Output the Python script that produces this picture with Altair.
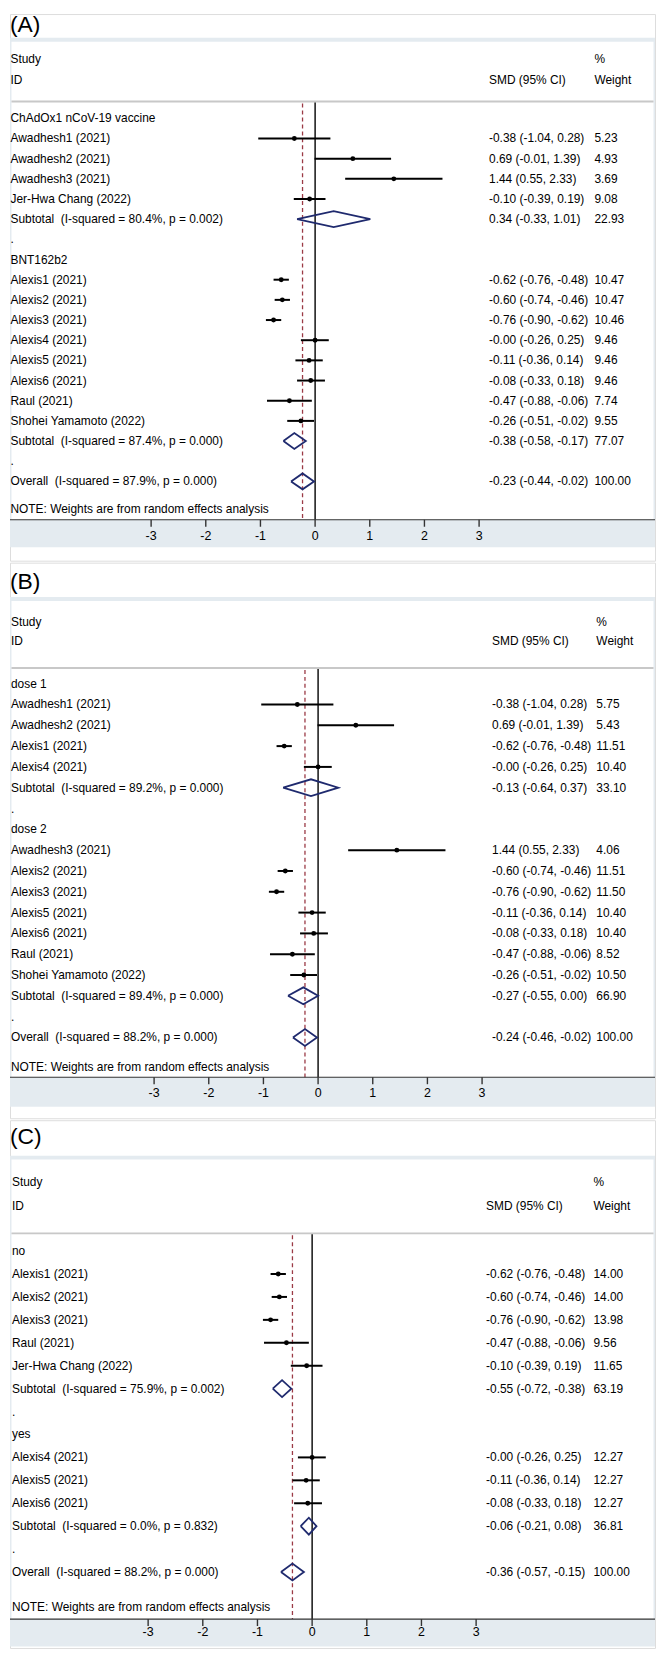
import altair as alt
import pandas as pd

FONT = "Liberation Sans"
INK = "#000000"
BAND = "#e4ebf0"
NAVY = "#1f2a6e"
MAROON = "#9b3a45"
RULE_GRAY = "#c8c8c8"

# ---------------- data ----------------
A_labels = ["ChAdOx1 nCoV-19 vaccine", "Awadhesh1 (2021)", "Awadhesh2 (2021)", "Awadhesh3 (2021)",
            "Jer-Hwa Chang (2022)", "Subtotal  (I-squared = 80.4%, p = 0.002)", ".", "BNT162b2",
            "Alexis1 (2021)", "Alexis2 (2021)", "Alexis3 (2021)", "Alexis4 (2021)", "Alexis5 (2021)",
            "Alexis6 (2021)", "Raul (2021)", "Shohei Yamamoto (2022)",
            "Subtotal  (I-squared = 87.4%, p = 0.000)", ".", "Overall  (I-squared = 87.9%, p = 0.000)"]
A_kind = ["g", "s", "s", "s", "s", "p", "b", "g", "s", "s", "s", "s", "s", "s", "s", "s", "p", "b", "p"]
A_est = [None, -0.38, 0.69, 1.44, -0.10, 0.34, None, None, -0.62, -0.60, -0.76, -0.0, -0.11, -0.08, -0.47, -0.26, -0.38, None, -0.23]
A_lo = [None, -1.04, -0.01, 0.55, -0.39, -0.33, None, None, -0.76, -0.74, -0.90, -0.26, -0.36, -0.33, -0.88, -0.51, -0.58, None, -0.44]
A_hi = [None, 0.28, 1.39, 2.33, 0.19, 1.01, None, None, -0.48, -0.46, -0.62, 0.25, 0.14, 0.18, -0.06, -0.02, -0.17, None, -0.02]
A_wt = [None, 5.23, 4.93, 3.69, 9.08, 22.93, None, None, 10.47, 10.47, 10.46, 9.46, 9.46, 9.46, 7.74, 9.55, 77.07, None, 100.00]

B_labels = ["dose 1", "Awadhesh1 (2021)", "Awadhesh2 (2021)", "Alexis1 (2021)", "Alexis4 (2021)",
            "Subtotal  (I-squared = 89.2%, p = 0.000)", ".", "dose 2", "Awadhesh3 (2021)", "Alexis2 (2021)",
            "Alexis3 (2021)", "Alexis5 (2021)", "Alexis6 (2021)", "Raul (2021)", "Shohei Yamamoto (2022)",
            "Subtotal  (I-squared = 89.4%, p = 0.000)", ".", "Overall  (I-squared = 88.2%, p = 0.000)"]
B_kind = ["g", "s", "s", "s", "s", "p", "b", "g", "s", "s", "s", "s", "s", "s", "s", "p", "b", "p"]
B_est = [None, -0.38, 0.69, -0.62, -0.0, -0.13, None, None, 1.44, -0.60, -0.76, -0.11, -0.08, -0.47, -0.26, -0.27, None, -0.24]
B_lo = [None, -1.04, -0.01, -0.76, -0.26, -0.64, None, None, 0.55, -0.74, -0.90, -0.36, -0.33, -0.88, -0.51, -0.55, None, -0.46]
B_hi = [None, 0.28, 1.39, -0.48, 0.25, 0.37, None, None, 2.33, -0.46, -0.62, 0.14, 0.18, -0.06, -0.02, 0.00, None, -0.02]
B_wt = [None, 5.75, 5.43, 11.51, 10.40, 33.10, None, None, 4.06, 11.51, 11.50, 10.40, 10.40, 8.52, 10.50, 66.90, None, 100.00]

C_labels = ["no", "Alexis1 (2021)", "Alexis2 (2021)", "Alexis3 (2021)", "Raul (2021)", "Jer-Hwa Chang (2022)",
            "Subtotal  (I-squared = 75.9%, p = 0.002)", ".", "yes", "Alexis4 (2021)", "Alexis5 (2021)",
            "Alexis6 (2021)", "Subtotal  (I-squared = 0.0%, p = 0.832)", ".",
            "Overall  (I-squared = 88.2%, p = 0.000)"]
C_kind = ["g", "s", "s", "s", "s", "s", "p", "b", "g", "s", "s", "s", "p", "b", "p"]
C_est = [None, -0.62, -0.60, -0.76, -0.47, -0.10, -0.55, None, None, -0.0, -0.11, -0.08, -0.06, None, -0.36]
C_lo = [None, -0.76, -0.74, -0.90, -0.88, -0.39, -0.72, None, None, -0.26, -0.36, -0.33, -0.21, None, -0.57]
C_hi = [None, -0.48, -0.46, -0.62, -0.06, 0.19, -0.38, None, None, 0.25, 0.14, 0.18, 0.08, None, -0.15]
C_wt = [None, 14.00, 14.00, 13.98, 9.56, 11.65, 63.19, None, None, 12.27, 12.27, 12.27, 36.81, None, 100.00]

tick_values = [-3, -2, -1, 0, 1, 2, 3]
tick_labels = ["-3", "-2", "-1", "0", "1", "2", "3"]

NOTE = "NOTE: Weights are from random effects analysis"

# ---------------- layout ----------------
W = 649
K = 0.99
UNIT = 55.0
FS = 12

GEOM = {
    "A": dict(top=4, H=550, tag_y=15, band_top=28, study_y=50, id_y=71, hline_y=93, row0=110, step=20.5,
              note_y=507, axis_y=518, tlab_y=535, band_bot=546, x0=315, study_x=8.5, smd_x=490, w_x=596, dh=8),
    "B": dict(top=560, H=559, tag_y=580, band_top=595, study_y=620, id_y=640, hline_y=667, row0=683, step=21.15,
              note_y=1073, axis_y=1083, tlab_y=1099, band_bot=1113, x0=318, study_x=9, smd_x=493, w_x=598, dh=8.5),
    "C": dict(top=1125, H=531, tag_y=1142, band_top=1161, study_y=1188, id_y=1212, hline_y=1240, row0=1258, step=23.3,
              note_y=1620, axis_y=1632, tlab_y=1645, band_bot=1660, x0=312, study_x=10, smd_x=487, w_x=595, dh=8.5),
}

one = pd.DataFrame({"k": [0]})


def panel(tag, labels, kind, est, lo, hi, wt, g):
    H = g["H"]
    py = lambda r: (r - g["top"]) * K
    px = lambda r: r - 8
    step = g["step"]
    ra = (g["top"] - g["row0"]) / step
    rb = ra + H / (K * step)
    ys = alt.Scale(domain=[ra, rb], range=[0, H], nice=False, zero=False)
    xs = alt.Scale(domain=[(8 - g["x0"]) / UNIT, (8 + W - g["x0"]) / UNIT], nice=False, zero=False)

    n = len(labels)
    df = pd.DataFrame({
        "row": list(range(n)),
        "label": [s.replace("  ", "\u00a0 ") for s in labels],
        "kind": kind, "est": est, "lo": lo, "hi": hi, "wt": wt,
    })
    has = df["est"].notna()
    df["ci"] = ""
    df["wtxt"] = ""
    df.loc[has, "ci"] = [f"{e:.2f} ({l:.2f}, {h:.2f})" for e, l, h in
                         zip(df.loc[has, "est"], df.loc[has, "lo"], df.loc[has, "hi"])]
    df.loc[has, "wtxt"] = [f"{w:.2f}" for w in df.loc[has, "wt"]]
    studies = df[df["kind"] == "s"][["row", "est", "lo", "hi"]]
    pooled = df[df["kind"] == "p"]
    estrows = df[has][["row", "ci", "wtxt"]]
    lab = df[["row", "label"]]

    dh = g["dh"] / (K * step)
    verts = []
    for _, r in pooled.iterrows():
        pts = [(r["lo"], r["row"]), (r["est"], r["row"] - dh), (r["hi"], r["row"]),
               (r["est"], r["row"] + dh), (r["lo"], r["row"])]
        for j, (vx, vy) in enumerate(pts):
            verts.append({"id": int(r["row"]), "ord": j, "vx": float(vx), "vy": float(vy)})
    vdf = pd.DataFrame(verts)

    ticks = pd.DataFrame({"t": tick_values, "tl": tick_labels})
    overall = [e for e in est if e is not None][-1]

    Yrow = alt.Y("row:Q", scale=ys, axis=None)
    txt = dict(align="left", baseline="middle", fontSize=FS, font=FONT, color=INK)

    layers = [
        alt.Chart(one).mark_rect(color=BAND).encode(
            x=alt.value(0), x2=alt.value(W), y=alt.value(py(g["band_top"])), y2=alt.value(py(g["band_bot"]))),
        alt.Chart(one).mark_rect(color="white").encode(
            x=alt.value(1.5), x2=alt.value(W - 1.5), y=alt.value(py(g["band_top"]) + 4), y2=alt.value(py(g["axis_y"]))),
        alt.Chart(one).mark_rule(color=RULE_GRAY, strokeWidth=2).encode(
            x=alt.value(1.5), x2=alt.value(W - 1.5), y=alt.value(py(g["hline_y"]))),
        alt.Chart(one).mark_rule(color="black", strokeWidth=1.4).encode(
            x=alt.XDatum(0, scale=xs, axis=None), y=alt.value(py(g["hline_y"]) + 1), y2=alt.value(py(g["axis_y"]))),
        alt.Chart(one).mark_rule(color=MAROON, strokeWidth=1.3, strokeDash=[4, 3]).encode(
            x=alt.XDatum(overall, scale=xs, axis=None), y=alt.value(py(g["hline_y"]) + 2), y2=alt.value(py(g["axis_y"]))),
        alt.Chart(studies).mark_rule(color="black", strokeWidth=2).encode(
            x=alt.X("lo:Q", scale=xs, axis=None), x2="hi:Q", y=Yrow),
        alt.Chart(studies).mark_point(filled=True, shape="circle", size=24, color="black", opacity=1).encode(
            x=alt.X("est:Q", scale=xs, axis=None), y=Yrow),
        alt.Chart(vdf).mark_line(color=NAVY, strokeWidth=1.8).encode(
            x=alt.X("vx:Q", scale=xs, axis=None), y=alt.Y("vy:Q", scale=ys, axis=None),
            order=alt.Order("ord:Q"), detail="id:N"),
        alt.Chart(lab).mark_text(**txt).encode(x=alt.value(px(g["study_x"])), y=Yrow, text="label:N"),
        alt.Chart(estrows).mark_text(**txt).encode(x=alt.value(px(g["smd_x"])), y=Yrow, text="ci:N"),
        alt.Chart(estrows).mark_text(**txt).encode(x=alt.value(px(g["w_x"])), y=Yrow, text="wtxt:N"),
        alt.Chart(one).mark_text(text="Study", **txt).encode(x=alt.value(px(g["study_x"])), y=alt.value(py(g["study_y"]))),
        alt.Chart(one).mark_text(text="ID", **txt).encode(x=alt.value(px(g["study_x"])), y=alt.value(py(g["id_y"]))),
        alt.Chart(one).mark_text(text="%", **txt).encode(x=alt.value(px(g["w_x"])), y=alt.value(py(g["study_y"]))),
        alt.Chart(one).mark_text(text="SMD (95% CI)", **txt).encode(x=alt.value(px(g["smd_x"])), y=alt.value(py(g["id_y"]))),
        alt.Chart(one).mark_text(text="Weight", **txt).encode(x=alt.value(px(g["w_x"])), y=alt.value(py(g["id_y"]))),
        alt.Chart(one).mark_text(text=NOTE, **txt).encode(x=alt.value(px(g["study_x"])), y=alt.value(py(g["note_y"]))),
        alt.Chart(one).mark_rule(color="#333333", strokeWidth=1.2).encode(
            x=alt.value(0), x2=alt.value(W), y=alt.value(py(g["axis_y"]))),
        alt.Chart(ticks).mark_rule(color="#333333", strokeWidth=1.4).encode(
            x=alt.X("t:Q", scale=xs, axis=None), y=alt.value(py(g["axis_y"])), y2=alt.value(py(g["axis_y"]) + 7)),
        alt.Chart(ticks).mark_text(align="center", baseline="middle", fontSize=12.5, font=FONT, color=INK).encode(
            x=alt.X("t:Q", scale=xs, axis=None), y=alt.value(py(g["tlab_y"])), text="tl:N"),
        alt.Chart(one).mark_text(text=tag, align="left", baseline="middle", fontSize=23, font=FONT, color=INK).encode(
            x=alt.value(0), y=alt.value(py(g["tag_y"]))),
    ]
    return alt.layer(*layers).properties(width=W, height=H)


pA = panel("(A)", A_labels, A_kind, A_est, A_lo, A_hi, A_wt, GEOM["A"])
pB = panel("(B)", B_labels, B_kind, B_est, B_lo, B_hi, B_wt, GEOM["B"])
pC = panel("(C)", C_labels, C_kind, C_est, C_lo, C_hi, C_wt, GEOM["C"])

chart = (alt.vconcat(pA, pB, pC, spacing=0)
         .properties(padding=0)
         .configure_view(stroke="transparent", strokeWidth=0)
         .configure(background="white"))

chart.save("out.html", embed_options={"renderer": "svg", "actions": False})
